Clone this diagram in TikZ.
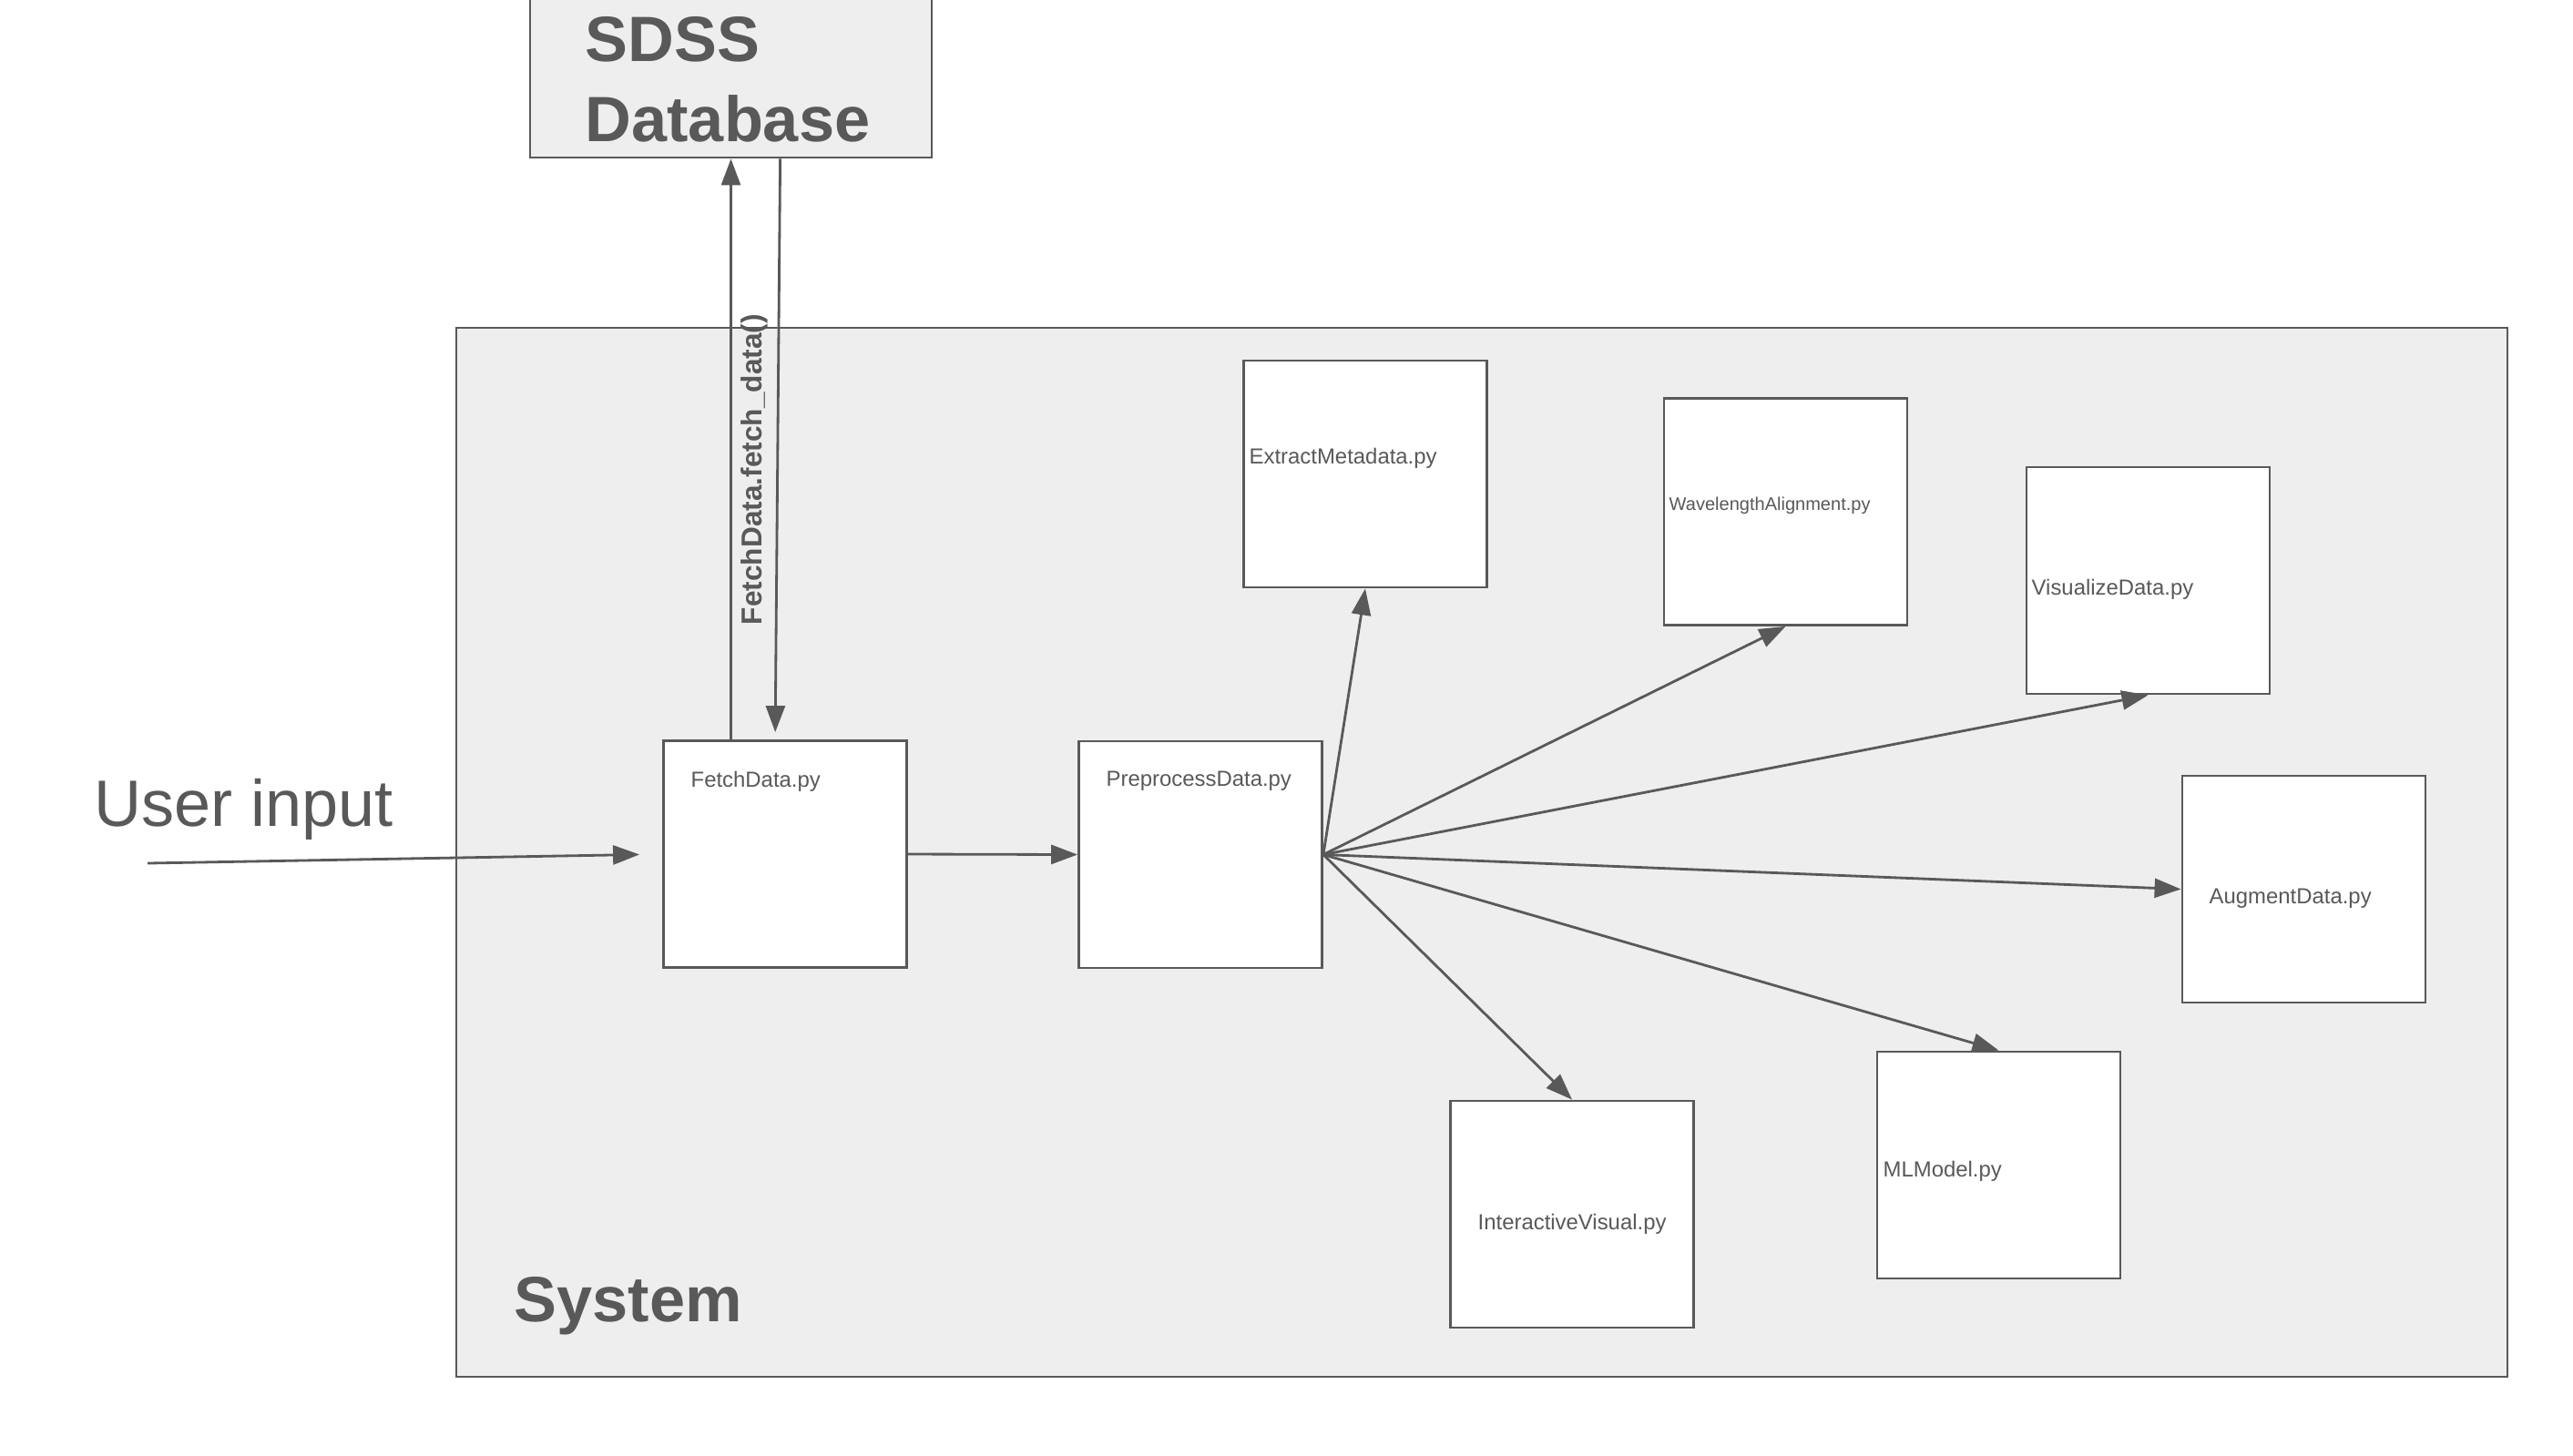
\documentclass[tikz,border=0pt]{standalone}
\usepackage{fontspec}
\setmainfont{Liberation Sans}
\usetikzlibrary{arrows.meta}
\definecolor{dgray}{RGB}{89,89,89}
\definecolor{sysfill}{RGB}{238,238,238}

\begin{document}
\begin{tikzpicture}[box/.style={draw=dgray,fill=white,line width=.8pt,minimum width=2.67cm,minimum height=2.49cm,inner sep=0pt},frame/.style={draw=dgray,fill=sysfill,line width=.8pt,inner sep=0pt},txt/.style={text=dgray,anchor=west,inner sep=0pt,font=\fontsize{6.8}{8}\selectfont},big/.style={text=dgray,inner sep=0pt,font=\fontsize{20}{25}\selectfont\bfseries},a/.style={-{Triangle[length=2.9mm,width=2.1mm]},draw=dgray,line width=.8pt}]
\fill[white] (0,0) rectangle (28.25,-15.98);
\clip (0,0) rectangle (28.25,-15.98);
\node[frame,minimum width=22.52cm,minimum height=11.52cm] (system) at (16.27,-9.36) {};
\node[frame,minimum width=4.41cm,minimum height=2.0cm] (sdss) at (8.025,-0.73) {};
\node[big,anchor=west,align=left] (sdsstxt) at (6.42,-0.87) {SDSS\\Database};
\node[big,anchor=base west] (systxt) at (5.64,-14.51) {System};
\node[text=dgray,inner sep=0pt,anchor=base west,font=\fontsize{20.5}{24}\selectfont] (uintxt) at (1.03,-9.07) {User input};
\coordinate (uin) at (1.62,-9.48);
% scripts
\node[box] (fetch) at (8.62,-9.38) {};
\node[box] (prep) at (13.18,-9.385) {};
\node[box] (extract) at (14.99,-5.205) {};
\node[box] (wave) at (19.605,-5.62) {};
\node[box] (vis) at (23.585,-6.375) {};
\node[box] (aug) at (25.295,-9.765) {};
\node[box] (ml) at (21.945,-12.795) {};
\node[box] (inter) at (17.26,-13.335) {};
\node[txt] (fetchtxt) at (7.58,-8.58) {FetchData.py};
\node[txt] (preptxt) at (12.14,-8.58) {PreprocessData.py};
\node[txt] (extracttxt) at (13.71,-5.03) {ExtractMetadata.py};
\node[txt,font=\fontsize{5.7}{7}\selectfont] (wavetxt) at (18.32,-5.55) {WavelengthAlignment.py};
\node[txt] (vistxt) at (22.30,-6.47) {VisualizeData.py};
\node[txt] (augtxt) at (24.25,-9.87) {AugmentData.py};
\node[txt] (mltxt) at (20.67,-12.86) {MLModel.py};
\node[txt] (intertxt) at (16.22,-13.44) {InteractiveVisual.py};
% connectors
\draw[a,shorten >=2.5mm] (uin)--(fetch.west);
\draw[a] (fetch.east)--(prep.west);
\draw[a] (sdss.south |- fetch.north)--node[pos=.465,rotate=90,anchor=north,inner sep=1mm,text=dgray,font=\fontsize{9}{11}\selectfont\bfseries] (calltxt) {FetchData.fetch\_data()} (sdss.south);
\draw[a,shorten >=.8mm] ([xshift=2.76cm]sdss.south west)--([xshift=1.24cm]fetch.north west);
\draw[a] (prep.east)--(extract.south); \draw[a] (prep.east)--(wave.south);
\draw[a] (prep.east)--(vis.south); \draw[a] (prep.east)--(aug.west);
\draw[a] (prep.east)--(ml.north); \draw[a] (prep.east)--(inter.north);
\end{tikzpicture}
\end{document}
